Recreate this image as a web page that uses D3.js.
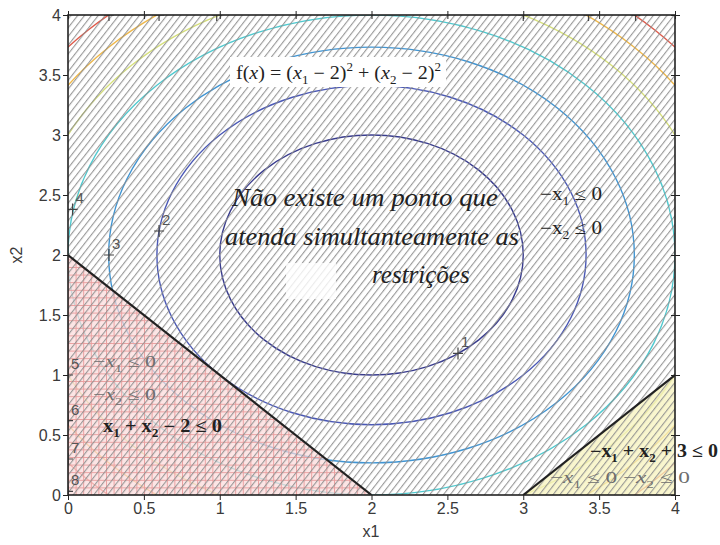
<!DOCTYPE html>
<html>
<head>
<meta charset="utf-8">
<title>Contorno com restrições</title>
<script src="https://cdn.jsdelivr.net/npm/d3@7"></script>
<style>
  body { margin: 0; background: #fff; }
  .tick text { font-family: "Liberation Sans", Arial, sans-serif; font-size: 16px; fill: #3a3a3a; }
  .tick line { stroke: #222; }
  .domain { display: none; }
</style>
</head>
<body>
<svg id="chart" width="720" height="545"></svg>
<script>
// dados
var xTicks = [0, 0.5, 1, 1.5, 2, 2.5, 3, 3.5, 4];
var yTicks = [0, 0.5, 1, 1.5, 2, 2.5, 3, 3.5, 4];
var centro = [2, 2];                       // minimo de f(x)
var niveis = [1, 2, 3, 4, 5, 6, 7, 8];     // niveis das curvas
var raios = [1, 1.414, 1.732, 2, 2.236, 2.449, 2.646, 2.828];
var cores = ["#393c8e", "#4a58b6", "#3f95d4", "#4fcad0", "#d6e07a", "#f0b848", "#e05a4a", "#b83030"];
// rotulos das curvas (nivel, x1, x2)
var rotulos = [[1, 2.57, 1.18], [2, 0.6, 2.2], [3, 0.27, 2.0], [4, 0.03, 2.38],
               [5, 0.0, 1.0], [6, 0.0, 0.62], [7, 0.0, 0.3], [8, 0.0, 0.03]];
var marcasTopo = [[7, 0.27, 4], [6, 0.6, 4], [5, 0.98, 4], [5, 3.0, 4], [6, 3.43, 4], [7, 3.74, 4]];
// regioes das restricoes
var regiaoA = [[0, 0], [0, 2], [2, 0]];    // x1 + x2 - 2 <= 0
var regiaoB = [[3, 0], [4, 0], [4, 1]];    // -x1 + x2 + 3 <= 0
var retaA = [[0, 2], [2, 0]];
var retaB = [[3, 0], [4, 1]];

var svg = d3.select("#chart");
var x = d3.scaleLinear().domain([0, 4]).range([68, 675]);
var y = d3.scaleLinear().domain([0, 4]).range([495, 15]);
var linha = d3.line().x(function(d){ return x(d[0]); }).y(function(d){ return y(d[1]); });

var defs = svg.append("defs");
defs.append("clipPath").attr("id", "area")
  .append("rect").attr("x", x(0)).attr("y", y(4))
  .attr("width", x(4) - x(0)).attr("height", y(0) - y(4));

// hachura diagonal
var hach = defs.append("pattern").attr("id", "hach")
  .attr("patternUnits", "userSpaceOnUse")
  .attr("width", 5.4).attr("height", 20)
  .attr("patternTransform", "rotate(38)");
hach.append("line").attr("x1", 0.6).attr("y1", -2).attr("x2", 0.6).attr("y2", 22)
  .attr("stroke", "#8e8e8e").attr("stroke-width", 1);

// grade da regiao rosa
var grade = defs.append("pattern").attr("id", "grade")
  .attr("patternUnits", "userSpaceOnUse")
  .attr("x", x(0)).attr("y", y(0))
  .attr("width", 7.6).attr("height", 7.6);
grade.append("path").attr("d", "M0,0.5H7.6M0.5,0V7.6")
  .attr("stroke", "#eba0a0").attr("stroke-width", 1).attr("fill", "none");

var plot = svg.append("g").attr("clip-path", "url(#area)");

// curvas de nivel
plot.selectAll("ellipse.nivel").data(niveis).enter().append("ellipse")
  .attr("class", "nivel")
  .attr("cx", x(centro[0])).attr("cy", y(centro[1]))
  .attr("rx", function(d, i){ return x(centro[0] + raios[i]) - x(centro[0]); })
  .attr("ry", function(d, i){ return y(centro[1]) - y(centro[1] + raios[i]); })
  .attr("fill", "none")
  .attr("stroke", function(d, i){ return cores[i]; })
  .attr("stroke-width", 1.4);

// regioes
plot.append("path").attr("d", linha(regiaoA) + "Z").attr("fill", "#fbdada").attr("opacity", 0.7);
plot.append("path").attr("d", linha(regiaoA) + "Z").attr("fill", "url(#grade)");
plot.append("path").attr("d", linha(regiaoB) + "Z").attr("fill", "#f7f3bd").attr("opacity", 0.75);

// hachura sobre tudo
plot.append("rect").attr("x", x(0)).attr("y", y(4))
  .attr("width", x(4) - x(0)).attr("height", y(0) - y(4))
  .attr("fill", "url(#hach)");

// retas das restricoes
[retaA, retaB].forEach(function(r){
  plot.append("path").attr("d", linha(r)).attr("stroke", "#222").attr("stroke-width", 2.2).attr("fill", "none");
});

// marcas + e rotulos
function cruz(g, px, py){
  g.append("path").attr("d", "M" + (px - 5) + "," + py + "H" + (px + 5) + "M" + px + "," + (py - 6) + "V" + (py + 6))
    .attr("stroke", "#444").attr("stroke-width", 1.2);
}
rotulos.forEach(function(r){
  cruz(plot, x(r[1]), y(r[2]));
  plot.append("text").attr("x", x(r[1]) + 3).attr("y", y(r[2]) - 6)
    .style("font-family", "Liberation Sans, Arial, sans-serif").style("font-size", "15px")
    .attr("fill", "#555").text(r[0]);
});
marcasTopo.forEach(function(r){ cruz(plot, x(r[1]), y(r[2])); });

// mancha branca atras do texto
plot.append("rect").attr("x", 286).attr("y", 263).attr("width", 50).attr("height", 36)
  .attr("fill", "#fff").attr("opacity", 0.8);

// eixos
svg.append("g").attr("transform", "translate(0," + y(0) + ")")
  .call(d3.axisBottom(x).tickValues(xTicks).tickSize(5).tickPadding(3).tickFormat(d3.format("")));
svg.append("g").attr("transform", "translate(" + x(0) + ",0)")
  .call(d3.axisLeft(y).tickValues(yTicks).tickSize(5).tickPadding(2).tickFormat(d3.format("")));
svg.append("g").attr("transform", "translate(0," + y(4) + ")")
  .call(d3.axisTop(x).tickValues(xTicks).tickSize(4).tickFormat(""))
  .selectAll(".tick line").attr("y2", 4).attr("y1", -4);
svg.append("g").attr("transform", "translate(" + x(4) + ",0)")
  .call(d3.axisRight(y).tickValues(yTicks).tickSize(4).tickFormat(""))
  .selectAll(".tick line").attr("x1", -4).attr("x2", 5);
svg.append("rect").attr("x", x(0)).attr("y", y(4))
  .attr("width", x(4) - x(0)).attr("height", y(0) - y(4))
  .attr("fill", "none").attr("stroke", "#222").attr("stroke-width", 1.6);

svg.append("text").attr("x", 371).attr("y", 537).attr("text-anchor", "middle")
  .style("font-family", "Liberation Sans, Arial, sans-serif").style("font-size", "16px").attr("fill", "#3a3a3a").text("x1");
svg.append("text").attr("transform", "translate(22,255) rotate(-90)").attr("text-anchor", "middle")
  .style("font-family", "Liberation Sans, Arial, sans-serif").style("font-size", "16px").attr("fill", "#3a3a3a").text("x2");

// texto matematico com partes: [texto, estilo]
function mat(px, py, partes, o){
  var t = svg.append("text").attr("x", px).attr("y", py)
    .style("font-family", o.font || "Liberation Serif, serif")
    .style("font-size", o.size + "px")
    .style("font-weight", o.bold ? "bold" : "normal")
    .attr("fill", o.cor || "#222")
    .attr("text-anchor", o.anchor || "start");
  var nivel = 0;
  partes.forEach(function(p){
    var s = t.append("tspan").text(p[0]);
    var alvo = p[1] === "sub" ? 0.3 : (p[1] === "sup" ? -0.45 : 0);
    var dy = (alvo - nivel) * o.size;
    if (dy !== 0) s.attr("dy", dy);
    nivel = alvo;
    if (p[1] === "i") s.style("font-style", "italic");
    if (p[1] === "sub" || p[1] === "sup") s.style("font-size", (o.size * 0.65) + "px");
  });
  if (o.largura) t.attr("textLength", o.largura).attr("lengthAdjust", "spacingAndGlyphs");
  return t;
}

// caixa da funcao
svg.append("rect").attr("x", 230).attr("y", 57).attr("width", 216).attr("height", 30).attr("fill", "#fff");
mat(236, 79, [["f(", "n"], ["x", "i"], [") = (", "n"], ["x", "i"], ["1", "sub"], [" − 2)", "n"], ["2", "sup"],
  [" + (", "n"], ["x", "i"], ["2", "sub"], [" − 2)", "n"], ["2", "sup"]], {size: 18, cor: "#222", largura: 205});

// mensagem central
var msg = ["Não existe um ponto que", "atenda simultanteamente as", "restrições"];
var msgX = [232, 225, 372], msgY = [206, 245, 283], msgL = [266, 294, null];
msg.forEach(function(m, i){
  var t = svg.append("text").attr("x", msgX[i]).attr("y", msgY[i])
    .style("font-family", "Liberation Serif, serif").style("font-style", "italic").style("font-size", "25px")
    .attr("fill", "#222").text(m);
  if (msgL[i]) t.attr("textLength", msgL[i]).attr("lengthAdjust", "spacingAndGlyphs");
});

// restricoes
mat(540, 200, [["−x", "n"], ["1", "sub"], [" ≤ 0", "n"]], {size: 18, cor: "#222", largura: 62});
mat(540, 234, [["−x", "n"], ["2", "sub"], [" ≤ 0", "n"]], {size: 18, cor: "#222", largura: 62});
mat(93, 367, [["−", "n"], ["x", "i"], ["1", "sub"], [" ≤ 0", "n"]], {size: 17, cor: "#6e6e6e", largura: 63});
mat(93, 400, [["−", "n"], ["x", "i"], ["2", "sub"], [" ≤ 0", "n"]], {size: 17, cor: "#6e6e6e", largura: 63});
mat(103, 432, [["x", "n"], ["1", "sub"], [" + x", "n"], ["2", "sub"], [" − 2 ≤ 0", "n"]], {size: 18, cor: "#222", bold: true, largura: 119});
mat(590, 457, [["−x", "n"], ["1", "sub"], [" + x", "n"], ["2", "sub"], [" + 3 ≤ 0", "n"]], {size: 18, cor: "#222", bold: true, largura: 128});
mat(550, 483, [["−", "n"], ["x", "i"], ["1", "sub"], [" ≤ 0  −", "n"], ["x", "i"], ["2", "sub"], [" ≤ 0", "n"]], {size: 17, cor: "#6e6e6e", largura: 140});
</script>
</body>
</html>
